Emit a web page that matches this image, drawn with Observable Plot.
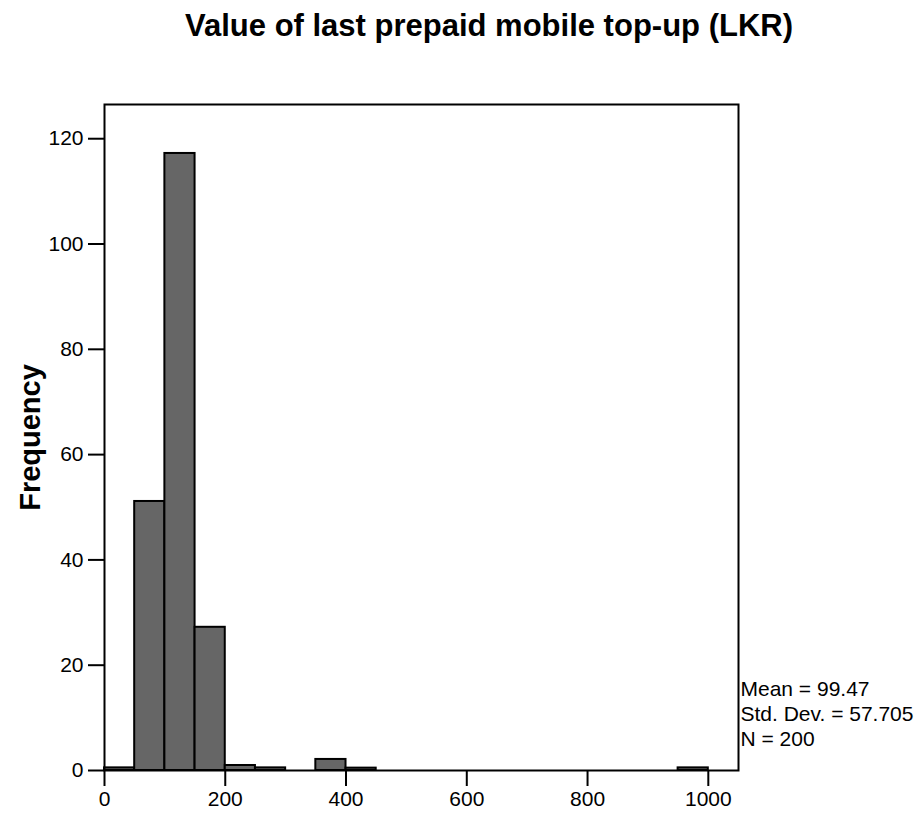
<!DOCTYPE html>
<html>
<head>
<meta charset="utf-8">
<script src="https://cdn.jsdelivr.net/npm/d3@7"></script>
<script src="https://cdn.jsdelivr.net/npm/@observablehq/plot@0.6"></script>
<style>
  html, body { margin: 0; padding: 0; background: #fff; }
  body { width: 918px; height: 814px; overflow: hidden; font-family: "Liberation Sans", Arial, sans-serif; }
  #title { box-sizing: border-box; height: 50px; width: 918px; padding-top: 8px; padding-left: 60px;
           text-align: center; font-size: 31px; font-weight: bold; line-height: 36px; color: #000; }
  #chart svg { display: block; }
</style>
</head>
<body>
<div id="title">Value of last prepaid mobile top-up (LKR)</div>
<div id="chart"></div>
<script>
// Histogram bins (LKR), bin width 50
const binStarts = [0, 50, 100, 150, 200, 250, 300, 350, 400, 450, 500, 550, 600, 650, 700, 750, 800, 850, 900, 950];
const binWidth = 50;
const frequencies = [0.5, 51.1, 117.2, 27.2, 0.95, 0.5, 0, 2.1, 0.45, 0, 0, 0, 0, 0, 0, 0, 0, 0, 0, 0.5];
const xTicks = [0, 200, 400, 600, 800, 1000];
const yTicks = [0, 20, 40, 60, 80, 100, 120];
const statsLines = ["Mean = 99.47", "Std. Dev. = 57.705", "N = 200"];
const yLabel = "Frequency";

const bins = binStarts.map((s, i) => ({x1: s, x2: s + binWidth, y: frequencies[i]}));

const chart = Plot.plot({
  width: 918,
  height: 764,
  marginTop: 54,
  marginLeft: 104,
  marginRight: 180,
  marginBottom: 44,
  style: {fontFamily: "'Liberation Sans', Arial, sans-serif", fontSize: "21px", color: "#000", background: "#fff"},
  x: {domain: [0, 1050], ticks: xTicks, label: null},
  y: {domain: [0, 126.5], ticks: yTicks, label: null},
  marks: [
    Plot.rectY(bins, {x1: "x1", x2: "x2", y: "y", fill: "#666666", stroke: "#000", strokeWidth: 2}),
    Plot.frame({stroke: "#000", strokeWidth: 2}),
    Plot.axisX({ticks: xTicks, tickFormat: d3.format("d"), tickSize: 16, tickPadding: 5, strokeWidth: 2, fontSize: 21, label: null}),
    Plot.axisY({ticks: yTicks, tickFormat: d3.format("d"), tickSize: 16, tickPadding: 5, strokeWidth: 2, fontSize: 21, label: null}),
    Plot.text([yLabel], {frameAnchor: "left", dx: -74, rotate: -90, textAnchor: "middle", text: d => d, fontSize: 29, fontWeight: "bold"}),
    Plot.text([statsLines.join("\n")], {frameAnchor: "bottom-right", text: d => d, textAnchor: "start",
      lineAnchor: "bottom", lineHeight: 1.19, dx: 2, dy: -25, fontSize: 21})
  ]
});
document.getElementById("chart").appendChild(chart);
</script>
</body>
</html>
